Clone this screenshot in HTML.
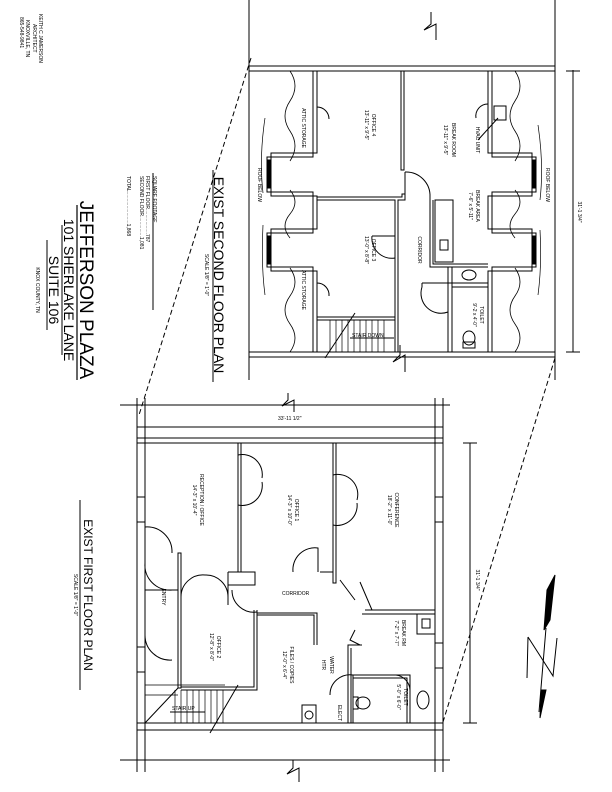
<!DOCTYPE html>
<html><head><meta charset="utf-8"><style>html,body{margin:0;padding:0;background:#fff}svg{display:block}text{font-family:"Liberation Sans",sans-serif;fill:#000}</style></head><body>
<svg width="612" height="792" viewBox="0 0 612 792" xmlns="http://www.w3.org/2000/svg">
<g stroke="#000" fill="none" stroke-width="1">
<!-- SECOND FLOOR -->
<line x1="249" y1="0" x2="249" y2="380"/><line x1="555" y1="0" x2="555" y2="380"/>
<rect x="249" y="66" width="306" height="5"/><rect x="249" y="352" width="306" height="5"/>
<line x1="249" y1="30" x2="555" y2="30" stroke-width="0"/>
<!-- left side walls with bumps -->
<polyline points="313,71 313,157 267,157 267,192 313,192 313,233 267,233 267,267 313,267 313,352"/>
<polyline points="317,71 317,153 271,153 271,196 317,196 317,229 271,229 271,271 317,271 317,352"/>
<polyline points="492,71 492,157 536,157 536,192 492,192 492,233 536,233 536,267 492,267 492,352"/>
<polyline points="488,71 488,153 532,153 532,196 488,196 488,229 532,229 532,271 488,271 488,352"/>
<rect x="267" y="160" width="4" height="28" fill="#000"/><rect x="267" y="236" width="4" height="28" fill="#000"/>
<rect x="532" y="160" width="4" height="28" fill="#000"/><rect x="532" y="236" width="4" height="28" fill="#000"/>
<rect x="401" y="71" width="3" height="99"/>
<polyline points="317,197 402,197 402,194 405,194 405,200 398,200 398,352 395,352 395,200 317,200"/>
<line x1="317" y1="317" x2="395" y2="317"/><line x1="317" y1="320" x2="395" y2="320"/>
<polyline points="430,197 430,267 488,267"/><polyline points="433,200 433,264 488,264"/>
<rect x="435" y="200" width="18" height="62"/><rect x="440" y="240" width="8" height="10"/>
<polyline points="448,352 448,267 452,267 452,352"/>
<polyline points="422,283 488,283 488,287 452,287"/>
<line x1="422" y1="283" x2="422" y2="287"/>
<ellipse cx="469" cy="275" rx="7" ry="5"/>
<ellipse cx="469" cy="338" rx="6" ry="7"/><rect x="463" y="342" width="12" height="6"/>
<rect x="494" y="106" width="12" height="14"/><line x1="498" y1="118" x2="478" y2="140"/>
<!-- doors second -->
<path d="M405,172 A24,24 0 0 1 430,197"/><line x1="405" y1="172" x2="405" y2="197"/>
<path d="M372,236 A20,20 0 0 0 395,258"/><line x1="372" y1="236" x2="395" y2="236"/>
<path d="M422,287 A20,20 0 0 0 448,312"/>
<path d="M488,104 A12,12 0 0 0 476,118"/><path d="M317,107 A12,12 0 0 1 329,119"/><path d="M317,283 A12,12 0 0 1 329,296"/>
<!-- stairs second -->
<g stroke-width="0.7"><line x1="330" y1="320" x2="330" y2="352"/><line x1="336" y1="320" x2="336" y2="352"/><line x1="342" y1="320" x2="342" y2="352"/><line x1="348" y1="320" x2="348" y2="352"/><line x1="354" y1="320" x2="354" y2="352"/><line x1="360" y1="320" x2="360" y2="352"/><line x1="366" y1="320" x2="366" y2="352"/><line x1="372" y1="320" x2="372" y2="352"/><line x1="378" y1="320" x2="378" y2="352"/><line x1="384" y1="320" x2="384" y2="352"/></g>
<line x1="355" y1="313" x2="325" y2="358"/><line x1="350" y1="338" x2="394" y2="338"/>
<!-- wavy attic lines -->
<path d="M290,71 q10,15 0,30 q-10,15 0,30 q10,15 0,30 M290,190 q10,12 0,24 q-10,12 0,24 M290,268 q10,14 0,28 q-10,14 0,28 q10,14 0,28" stroke-width="0.8"/>
<path d="M515,71 q10,15 0,30 q-10,15 0,30 q10,15 0,30 M515,190 q10,12 0,24 q-10,12 0,24 M515,268 q10,14 0,28 q-10,14 0,28 q10,14 0,28" stroke-width="0.8"/>
<path d="M265,118 q-6,40 -2,75 M263,225 q-2,40 2,70" stroke-width="0.7"/>
<path d="M538,125 q6,40 2,75 M540,230 q2,35 -2,65" stroke-width="0.7"/>
<!-- dim right second -->
<line x1="573" y1="70" x2="573" y2="352"/><line x1="566" y1="71" x2="580" y2="71"/><line x1="566" y1="352" x2="580" y2="352"/>
<!-- FIRST FLOOR -->
<line x1="137" y1="398" x2="137" y2="772"/><line x1="145" y1="398" x2="145" y2="772"/>
<line x1="435" y1="398" x2="435" y2="772"/><line x1="443" y1="398" x2="443" y2="772"/>
<line x1="120" y1="405" x2="450" y2="405"/><line x1="137" y1="427" x2="443" y2="427"/>
<rect x="137" y="438" width="306" height="5"/>
<rect x="137" y="723" width="306" height="7"/><line x1="120" y1="760" x2="450" y2="760"/>
<rect x="137" y="497" width="8" height="25"/><rect x="137" y="647" width="8" height="25"/>
<rect x="435" y="497" width="8" height="25"/><rect x="435" y="643" width="8" height="25"/>
<rect x="178" y="553" width="3" height="135"/>
<rect x="238" y="443" width="3" height="129"/><rect x="333" y="443" width="3" height="140"/>
<polyline points="228,572 255,572 255,585 228,585 228,572"/>
<polyline points="320,572 333,572"/>
<polyline points="228,585 228,605"/>
<polyline points="257,610 257,690 181,690"/><polyline points="254,610 254,687 181,687"/>
<polyline points="257,613 317,613 317,645"/><polyline points="257,615 314,615 314,645"/>
<polyline points="348,723 348,645 362,645"/><polyline points="351,723 351,648"/>
<polyline points="365,610 435,610"/><polyline points="362,614 435,614"/>
<rect x="417" y="614" width="18" height="20"/><rect x="422" y="619" width="8" height="9"/>
<polyline points="353,675 410,675 410,723"/><polyline points="353,678 407,678 407,723"/>
<line x1="353" y1="675" x2="353" y2="723"/>
<ellipse cx="423" cy="700" rx="6" ry="9"/>
<ellipse cx="363" cy="703" rx="7" ry="6"/><rect x="353" y="697" width="5" height="12"/>
<rect x="302" y="705" width="14" height="18"/><circle cx="309" cy="715" r="4"/>
<!-- doors first -->
<path d="M145,563 A25,25 0 0 0 172,590 L178,590"/><line x1="145" y1="590" x2="178" y2="590"/>
<path d="M145,527 A25,25 0 0 1 172,553"/><path d="M145,635 A25,25 0 0 0 172,660"/>
<path d="M181,597 A22,22 0 0 1 205,575 M228,597 A22,22 0 0 0 205,575"/>
<path d="M238,455 A20,20 0 0 1 262,478 M238,505 A20,20 0 0 0 262,482"/>
<path d="M333,475 A20,20 0 0 1 357,500 M333,525 A20,20 0 0 0 357,503"/>
<path d="M232,590 A22,22 0 0 0 257,612"/>
<path d="M293,572 A22,22 0 0 1 318,548 L318,572"/>
<path d="M340,580 L355,600 M360,582 L372,610"/>
<path d="M353,675 A20,20 0 0 0 330,695"/>
<path d="M396,675 A16,16 0 0 1 410,690"/>
<path d="M355,630 L350,640 L360,645"/>
<!-- stairs first -->
<g stroke-width="0.7"><line x1="145" y1="685" x2="225" y2="685"/><line x1="145" y1="695" x2="178" y2="695"/><line x1="175" y1="690" x2="175" y2="723"/><line x1="181" y1="690" x2="181" y2="723"/><line x1="187" y1="690" x2="187" y2="723"/><line x1="193" y1="690" x2="193" y2="723"/><line x1="199" y1="690" x2="199" y2="723"/><line x1="205" y1="690" x2="205" y2="723"/><line x1="211" y1="690" x2="211" y2="723"/><line x1="217" y1="690" x2="217" y2="723"/><line x1="223" y1="690" x2="223" y2="723"/></g>
<line x1="145" y1="723" x2="178" y2="688"/><line x1="238" y1="685" x2="210" y2="733"/><line x1="170" y1="712" x2="205" y2="712"/>
<!-- dim right first -->
<line x1="470" y1="443" x2="470" y2="723"/><line x1="463" y1="443" x2="477" y2="443"/><line x1="463" y1="723" x2="477" y2="723"/>
<!-- dashed connectors -->
<line x1="251" y1="58" x2="139" y2="415" stroke-dasharray="5,3"/>
<line x1="555" y1="358" x2="443" y2="722" stroke-dasharray="5,3"/>
<!-- break symbols -->
<path d="M431,12 L431,24 L424,30 L436,24 L436,40"/>
<path d="M400,345 L400,355 L393,362 L405,355 L405,372"/>
<path d="M288,393 L288,400 L282,406 L294,400 L294,412"/>
<path d="M293,760 L293,768 L287,774 L299,768 L299,782"/>
<!-- underlines for titles -->
<line x1="213" y1="170" x2="213" y2="382"/><line x1="77" y1="205" x2="77" y2="380" stroke-width="2" stroke="#666"/>
<line x1="62" y1="225" x2="62" y2="355"/><line x1="47" y1="240" x2="47" y2="330"/>
<line x1="153" y1="173" x2="153" y2="310"/><line x1="80" y1="500" x2="80" y2="690"/>
<!-- north arrow -->
<polygon points="555,575 547,590 544,630 550,620" fill="#000"/>
<line x1="546" y1="628" x2="539" y2="712"/>
<polyline points="528,637 553,676 557,638" />
<line x1="528" y1="637" x2="527" y2="678"/>
<polygon points="541,690 546,690 540,718" fill="#000"/>
</g>
<!-- TEXT -->
<g font-size="5">
<text transform="translate(452,140) rotate(90)" text-anchor="middle">BREAK ROOM</text>
<text transform="translate(444,140) rotate(90)" text-anchor="middle">13'-11" x 9'-5"</text>
<text transform="translate(476,140) rotate(90)" text-anchor="middle">HVAC UNIT</text>
<text transform="translate(372,125) rotate(90)" text-anchor="middle">OFFICE 4</text>
<text transform="translate(365,125) rotate(90)" text-anchor="middle">13'-11" x 9'-5"</text>
<text transform="translate(302,128) rotate(90)" text-anchor="middle">ATTIC STORAGE</text>
<text transform="translate(302,290) rotate(90)" text-anchor="middle">ATTIC STORAGE</text>
<text transform="translate(372,250) rotate(90)" text-anchor="middle">OFFICE 3</text>
<text transform="translate(365,250) rotate(90)" text-anchor="middle">13'-0" x 8'-8"</text>
<text transform="translate(418,250) rotate(90)" text-anchor="middle">CORRIDOR</text>
<text transform="translate(476,206) rotate(90)" text-anchor="middle">BREAK AREA</text>
<text transform="translate(469,206) rotate(90)" text-anchor="middle">7'-6" x 5'-11"</text>
<text transform="translate(480,315) rotate(90)" text-anchor="middle">TOILET</text>
<text transform="translate(473,315) rotate(90)" text-anchor="middle">9'-2 x 4'-0"</text>
<text x="352" y="337">STAIR DOWN</text>
<text transform="translate(258,185) rotate(90)" text-anchor="middle">ROOF BELOW</text>
<text transform="translate(546,185) rotate(90)" text-anchor="middle">ROOF BELOW</text>
<text transform="translate(578,212) rotate(90)" text-anchor="middle">31'-1 3/4"</text>
<text x="278" y="420">33'-11 1/2"</text>
<text transform="translate(476,580) rotate(90)" text-anchor="middle">31'-1 3/4"</text>
<text transform="translate(200,500) rotate(90)" text-anchor="middle">RECEPTION / OFFICE</text>
<text transform="translate(193,500) rotate(90)" text-anchor="middle">14'-3" x 10'-4"</text>
<text transform="translate(295,510) rotate(90)" text-anchor="middle">OFFICE 1</text>
<text transform="translate(288,510) rotate(90)" text-anchor="middle">14'-3" x 10'-0"</text>
<text transform="translate(395,510) rotate(90)" text-anchor="middle">CONFERENCE</text>
<text transform="translate(388,510) rotate(90)" text-anchor="middle">18'-2" x 11'-0"</text>
<text x="282" y="595">CORRIDOR</text>
<text transform="translate(162,597) rotate(90)" text-anchor="middle">ENTRY</text>
<text transform="translate(217,647) rotate(90)" text-anchor="middle">OFFICE 2</text>
<text transform="translate(210,647) rotate(90)" text-anchor="middle">12'-8" x 8'-0"</text>
<text transform="translate(290,665) rotate(90)" text-anchor="middle">FILES / COPIES</text>
<text transform="translate(283,665) rotate(90)" text-anchor="middle">12'-0" x 6'-4"</text>
<text transform="translate(330,665) rotate(90)" text-anchor="middle">WATER</text>
<text transform="translate(322,665) rotate(90)" text-anchor="middle">HTR</text>
<text transform="translate(338,713) rotate(90)" text-anchor="middle">ELECT</text>
<text transform="translate(402,633) rotate(90)" text-anchor="middle">BREAK RM</text>
<text transform="translate(395,633) rotate(90)" text-anchor="middle">7'-2" x 7'-7"</text>
<text transform="translate(404,697) rotate(90)" text-anchor="middle">TOILET</text>
<text transform="translate(397,697) rotate(90)" text-anchor="middle">5'-0" x 6'-0"</text>
<text x="172" y="710">STAIR UP</text>
</g>
<text transform="translate(214,275) rotate(90)" text-anchor="middle" font-size="14">EXIST  SECOND  FLOOR  PLAN</text>
<text transform="translate(205,275) rotate(90)" text-anchor="middle" font-size="5">SCALE 1/8" = 1'-0"</text>
<text transform="translate(84,595) rotate(90)" text-anchor="middle" font-size="12">EXIST  FIRST  FLOOR  PLAN</text>
<text transform="translate(74,595) rotate(90)" text-anchor="middle" font-size="5">SCALE 1/8" = 1'-0"</text>
<text transform="translate(80,290) rotate(90)" text-anchor="middle" font-size="19">JEFFERSON  PLAZA</text>
<text transform="translate(64,290) rotate(90)" text-anchor="middle" font-size="14">101 SHERLAKE LANE</text>
<text transform="translate(49,290) rotate(90)" text-anchor="middle" font-size="14">SUITE 106</text>
<text transform="translate(36,290) rotate(90)" text-anchor="middle" font-size="5">KNOX COUNTY, TN</text>
<g font-size="5">
<text transform="translate(153,176) rotate(90)">SQUARE FOOTAGE</text>
<text transform="translate(146,176) rotate(90)">FIRST FLOOR..................787</text>
<text transform="translate(140,176) rotate(90)">SECOND FLOOR...............1,081</text>
<text transform="translate(127,176) rotate(90)">TOTAL.......................1,868</text>
<text transform="translate(39,14) rotate(90)">KEITH C JAMERSON</text>
<text transform="translate(33,24) rotate(90)">ARCHITECT</text>
<text transform="translate(26,20) rotate(90)">KNOXVILLE, TN</text>
<text transform="translate(20,17) rotate(90)">865-548-9841</text>
</g>
</svg>
</body></html>
